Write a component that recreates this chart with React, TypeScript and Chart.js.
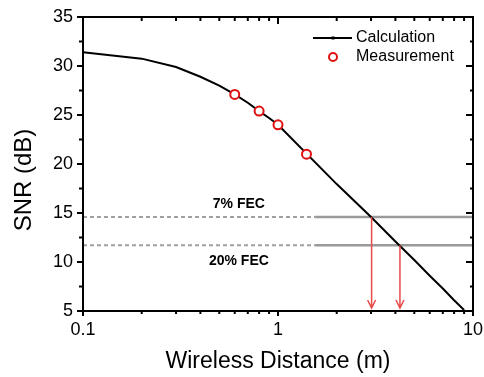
import React, { useEffect, useRef } from 'react';
import { Chart, registerables } from 'chart.js';

Chart.register(...registerables);

// ---- data ----
const calcDistance = [0.1, 0.2, 0.3, 0.4, 0.5, 0.6, 0.7, 0.8, 0.9, 1, 2, 3, 4, 5, 6, 7, 8, 9];
const calcSnr = [31.4, 30.75, 29.9, 28.9, 28.0, 27.1, 26.25, 25.4, 24.7, 24.0, 17.95, 14.6, 12.1, 10.2, 8.6, 7.3, 6.1, 5.1];
const measDistance = [0.6, 0.8, 1.0, 1.4];
const measSnr = [27.1, 25.4, 24.0, 21.0];
const fecLabels = ['7% FEC', '20% FEC'];
const fecSnr = [14.6, 11.7];
const fecDistance = [3.02, 4.22];
const fecDashEnd = 1.55;
const fecLabelDistance = 0.63;
const xTickValues = [0.1, 0.2, 0.3, 0.4, 0.5, 0.6, 0.7, 0.8, 0.9, 1, 2, 3, 4, 5, 6, 7, 8, 9, 10];
const xTickLabels = ['0.1', '1', '10'];
const yTickValues = [5, 7.5, 10, 12.5, 15, 17.5, 20, 22.5, 25, 27.5, 30, 32.5, 35];
const yTickLabels = ['5', '10', '15', '20', '25', '30', '35'];
const xTitle = 'Wireless Distance (m)';
const yTitle = 'SNR (dB)';
const legendLabels = ['Calculation', 'Measurement'];

const FONT = "'Liberation Sans', Arial, sans-serif";
const RED = '#e01010';
const GRAY = '#a0a0a0';

const isLabeled = (labels: string[], v: number) =>
  labels.find((l) => Math.abs(parseFloat(l) - v) < 1e-9);

const decorPlugin = {
  id: 'decor',
  afterDatasetsDraw(chart: any) {
    const { ctx, chartArea, scales } = chart;
    const xs = scales.x;
    const ys = scales.y;
    ctx.save();
    // arrows
    ctx.strokeStyle = '#e84a4a';
    ctx.lineWidth = 1.5;
    fecDistance.forEach((d, i) => {
      const x = xs.getPixelForValue(d);
      const y0 = ys.getPixelForValue(fecSnr[i]);
      const y1 = chartArea.bottom - 3;
      ctx.beginPath();
      ctx.moveTo(x, y0);
      ctx.lineTo(x, y1);
      ctx.moveTo(x - 4, y1 - 8);
      ctx.lineTo(x, y1);
      ctx.lineTo(x + 4, y1 - 8);
      ctx.stroke();
    });
    // FEC labels
    ctx.fillStyle = '#000';
    ctx.font = `bold 14px ${FONT}`;
    ctx.textAlign = 'center';
    ctx.textBaseline = 'middle';
    fecLabels.forEach((t, i) => {
      const x = xs.getPixelForValue(fecLabelDistance);
      const y = ys.getPixelForValue(fecSnr[i]) + (i === 0 ? -13 : 16);
      ctx.fillText(t, x, y);
    });
    ctx.restore();
  },
  afterDraw(chart: any) {
    const { ctx, chartArea, scales } = chart;
    const xs = scales.x;
    const ys = scales.y;
    const { left, right, top, bottom } = chartArea;
    ctx.save();
    ctx.strokeStyle = '#000';
    ctx.lineWidth = 2;
    ctx.strokeRect(left, top, right - left, bottom - top);
    ctx.beginPath();
    xTickValues.forEach((v) => {
      const x = xs.getPixelForValue(v);
      const major = !!isLabeled(xTickLabels, v);
      const lenB = major ? 5 : 3;
      const lenT = major ? 7 : 4;
      ctx.moveTo(x, bottom);
      ctx.lineTo(x, bottom + lenB);
      ctx.moveTo(x, top);
      ctx.lineTo(x, top + lenT);
    });
    yTickValues.forEach((v) => {
      const y = ys.getPixelForValue(v);
      const major = !!isLabeled(yTickLabels, v);
      const lenL = major ? 6 : 4;
      const lenR = major ? 7 : 3;
      ctx.moveTo(left - lenL, y);
      ctx.lineTo(left, y);
      ctx.moveTo(right, y);
      ctx.lineTo(right - lenR, y);
    });
    ctx.stroke();

    // axis titles
    ctx.fillStyle = '#000';
    ctx.textAlign = 'center';
    ctx.textBaseline = 'middle';
    ctx.font = `23px ${FONT}`;
    ctx.fillText(xTitle, (left + right) / 2, 362);
    ctx.save();
    ctx.translate(24, 180);
    ctx.rotate(-Math.PI / 2);
    ctx.font = `24px ${FONT}`;
    ctx.fillText(yTitle, 0, 0);
    ctx.restore();

    // legend
    ctx.strokeStyle = '#000';
    ctx.lineWidth = 2;
    ctx.beginPath();
    ctx.moveTo(313, 38);
    ctx.lineTo(352, 38);
    ctx.stroke();
    ctx.fillStyle = '#000';
    ctx.fillRect(331.5, 36.5, 3, 3);
    ctx.strokeStyle = RED;
    ctx.beginPath();
    ctx.arc(333, 57, 4, 0, Math.PI * 2);
    ctx.stroke();
    ctx.fillStyle = '#000';
    ctx.textAlign = 'left';
    ctx.font = `16px ${FONT}`;
    ctx.fillText(legendLabels[0], 356, 38);
    ctx.fillText(legendLabels[1], 356, 57);
    ctx.restore();
  },
};

export default function App() {
  const ref = useRef<HTMLCanvasElement>(null);
  useEffect(() => {
    if (!ref.current) return;
    const fecDatasets: any[] = [];
    fecSnr.forEach((s) => {
      fecDatasets.push({
        label: 'dash',
        data: [{ x: 0.1, y: s }, { x: fecDashEnd, y: s }],
        borderColor: GRAY,
        borderWidth: 2,
        borderDash: [4, 3],
        pointRadius: 0,
        order: 3,
      });
      fecDatasets.push({
        label: 'solid',
        data: [{ x: fecDashEnd, y: s }, { x: 10, y: s }],
        borderColor: '#9a9a9a',
        borderWidth: 2.5,
        pointRadius: 0,
        order: 3,
      });
    });
    const chart = new Chart(ref.current, {
      type: 'line',
      data: {
        datasets: [
          {
            label: legendLabels[1],
            data: measDistance.map((x, i) => ({ x, y: measSnr[i] })),
            showLine: false,
            pointStyle: 'circle',
            pointRadius: 4.5,
            pointBorderWidth: 2,
            pointBorderColor: RED,
            pointBackgroundColor: '#fff',
            order: 0,
          },
          {
            label: legendLabels[0],
            data: calcDistance.map((x, i) => ({ x, y: calcSnr[i] })),
            borderColor: '#000',
            borderWidth: 2,
            pointRadius: 0,
            tension: 0,
            order: 1,
          },
          ...fecDatasets,
        ],
      },
      options: {
        animation: false,
        responsive: false,
        layout: { padding: { top: 17, right: 11, left: 0, bottom: 0 } },
        plugins: { legend: { display: false }, tooltip: { enabled: false } },
        scales: {
          x: {
            type: 'logarithmic',
            min: 0.1,
            max: 10,
            grid: { display: false, drawTicks: false },
            border: { display: false },
            afterBuildTicks: (s: any) => {
              s.ticks = xTickValues.map((v) => ({ value: v }));
            },
            afterFit: (s: any) => {
              s.height = 66;
              s.paddingLeft = 0;
              s.paddingRight = 0;
            },
            ticks: {
              autoSkip: false,
              maxRotation: 0,
              color: '#000',
              padding: 8,
              font: { size: 18, family: FONT },
              callback: (v: any) => isLabeled(xTickLabels, Number(v)) ?? '',
            },
          },
          y: {
            type: 'linear',
            min: 5,
            max: 35,
            grid: { display: false, drawTicks: false },
            border: { display: false },
            afterBuildTicks: (s: any) => {
              s.ticks = yTickValues.map((v) => ({ value: v }));
            },
            afterFit: (s: any) => {
              s.width = 83;
              s.paddingTop = 0;
              s.paddingBottom = 0;
            },
            ticks: {
              autoSkip: false,
              color: '#000',
              padding: 10,
              font: { size: 18, family: FONT },
              callback: (v: any) => isLabeled(yTickLabels, Number(v)) ?? '',
            },
          },
        },
      },
      plugins: [decorPlugin],
    });
    return () => chart.destroy();
  }, []);
  return (
    <div style={{ position: 'fixed', left: 0, top: 0, width: 484, height: 377, background: '#fff' }}>
      <canvas ref={ref} width={484} height={377} style={{ display: 'block' }} />
    </div>
  );
}
